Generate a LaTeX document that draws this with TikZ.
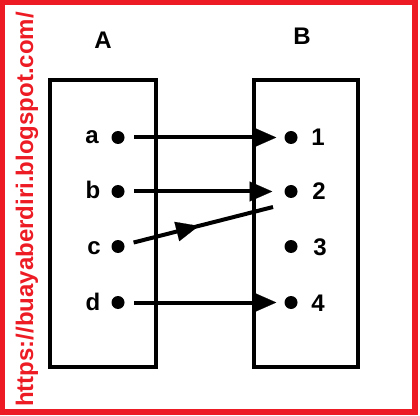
\documentclass[tikz,border=0pt]{standalone}
\usepackage{fontspec}
\setmainfont{Liberation Sans}
\usepackage{xcolor}
\usetikzlibrary{arrows.meta}
\usetikzlibrary{decorations.markings}
\definecolor{blogred}{RGB}{237,28,36}
\tikzset{
    dot/.style={circle,fill=black,inner sep=0pt,minimum size=9.75pt},
    txt/.style={font=\fontsize{18}{20}\selectfont\bfseries,anchor=base,inner sep=0pt},
    set/.style={draw=black,line width=3pt},
    tip/.style={-{Triangle[length=17pt,width=15pt,line width=0.1pt]}},
    map/.style={line width=3pt,tip,shorten <=7pt}
}
\begin{document}
\begin{tikzpicture}[x=0.75pt,y=-0.75pt]
            \useasboundingbox (0,0) rectangle (420,416);
            % cadre et adresse
            \draw[blogred,line width=4pt] (2.5,2.5) rectangle (415,412);
            \node[txt,text=blogred,rotate=90,anchor=base west] (url) at (33,407) {https://buayaberdiri.blogspot.com/};
            % les deux ensembles
            \draw[set] (50,80) rectangle (156,367);
            \draw[set] (254,80) rectangle (358,367);
            \node[txt] (A) at (103,49) {A};
            \node[txt] (B) at (302,45) {B};
            % elements de A
            \node[dot] (a) at (118,137.5) {};
            \node[dot] (b) at (118,191.5) {};
            \node[dot] (c) at (118,246.5) {};
            \node[dot] (d) at (118,302.5) {};
            \node[txt] (la) at (92,144) {a};
            \node[txt] (lb) at (93,199) {b};
            \node[txt] (lc) at (94,254) {c};
            \node[txt] (ld) at (93,310) {d};
            % elements de B
            \node[dot] (1) at (291,137.5) {};
            \node[dot] (2) at (291,191.5) {};
            \node[dot] (3) at (291,246.5) {};
            \node[dot] (4) at (291,302.5) {};
            \node[txt] (l1) at (318,146) {1};
            \node[txt] (l2) at (319,200) {2};
            \node[txt] (l3) at (320,255) {3};
            \node[txt] (l4) at (318,311) {4};
            % fleches
            \draw[map,shorten >=6pt] (a) -- (1);
            \draw[map,shorten >=9pt] (b) -- (2);
            \draw[map,shorten >=6pt] (d) -- (4);
            \coordinate (cend) at (273,207);
            \draw[line width=3pt,shorten <=7pt,postaction={decorate},
                decoration={markings,mark=at position 0.5 with {\arrow{Triangle[length=17pt,width=15pt,line width=0.1pt]}}}]
                (c) -- (cend);
        \end{tikzpicture}
\end{document}
